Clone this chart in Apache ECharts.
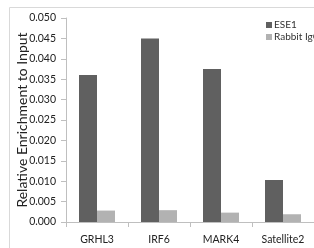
<!DOCTYPE html>
<html>
<head>
<meta charset="utf-8">
<script src="https://cdn.jsdelivr.net/npm/echarts@6/dist/echarts.min.js"></script>
<style>
  html, body { margin: 0; padding: 0; background: #fff; }
  #chart { width: 314px; height: 248px; }
</style>
</head>
<body>
<div id="chart"></div>
<script>
const categories = ['GRHL3', 'IRF6', 'MARK4', 'Satellite2']
const ese1 = [0.036, 0.045, 0.0375, 0.0103]
const rabbitIgG = [0.0028, 0.0029, 0.0023, 0.0019]
const seriesNames = ['ESE1', 'Rabbit IgG']

const chart = echarts.init(document.getElementById('chart'))
const font = 'Lato, "Open Sans", sans-serif'

chart.setOption({
  animation: false,
  textStyle: { fontFamily: font },
  graphic: [
    {
      type: 'rect',
      shape: { x: 9.5, y: 7.5, width: 400, height: 400 },
      style: { fill: 'none', stroke: '#d9d9d9', lineWidth: 1 },
      silent: true,
    },
  ],
  legend: {
    data: seriesNames,
    orient: 'vertical',
    left: 261,
    top: 15,
    itemWidth: 6,
    itemHeight: 6,
    itemGap: 2,
    icon: 'rect',
    textStyle: { fontSize: 10, color: '#333', padding: [0, 0, 0, -3] },
  },
  grid: {
    left: 66,
    right: -3,
    top: 18,
    bottom: 26,
  },
  xAxis: {
    type: 'category',
    data: categories,
    axisLine: { lineStyle: { color: '#bfbfbf' } },
    axisTick: { show: true, length: 5, lineStyle: { color: '#bfbfbf' } },
    axisLabel: { fontSize: 10.5, color: '#222', margin: 12 },
  },
  yAxis: {
    type: 'value',
    min: 0,
    max: 0.05,
    interval: 0.005,
    name: 'Relative Enrichment to Input',
    nameLocation: 'middle',
    nameGap: 37,
    nameMoveOverlap: false,
    nameTextStyle: { fontSize: 14, color: '#222' },
    splitLine: { show: false },
    axisLine: { show: true, lineStyle: { color: '#bfbfbf' } },
    axisTick: { show: true, length: 5, lineStyle: { color: '#bfbfbf' } },
    axisLabel: {
      fontSize: 10.5,
      color: '#222',
      margin: 10,
      formatter: v => v.toFixed(3),
    },
  },
  series: [
    {
      name: seriesNames[0],
      type: 'bar',
      data: ese1,
      barWidth: 18,
      barGap: '0%',
      itemStyle: { color: '#606060' },
    },
    {
      name: seriesNames[1],
      type: 'bar',
      data: rabbitIgG,
      barWidth: 18,
      itemStyle: { color: '#b2b2b2' },
    },
  ],
})
</script>
</body>
</html>
